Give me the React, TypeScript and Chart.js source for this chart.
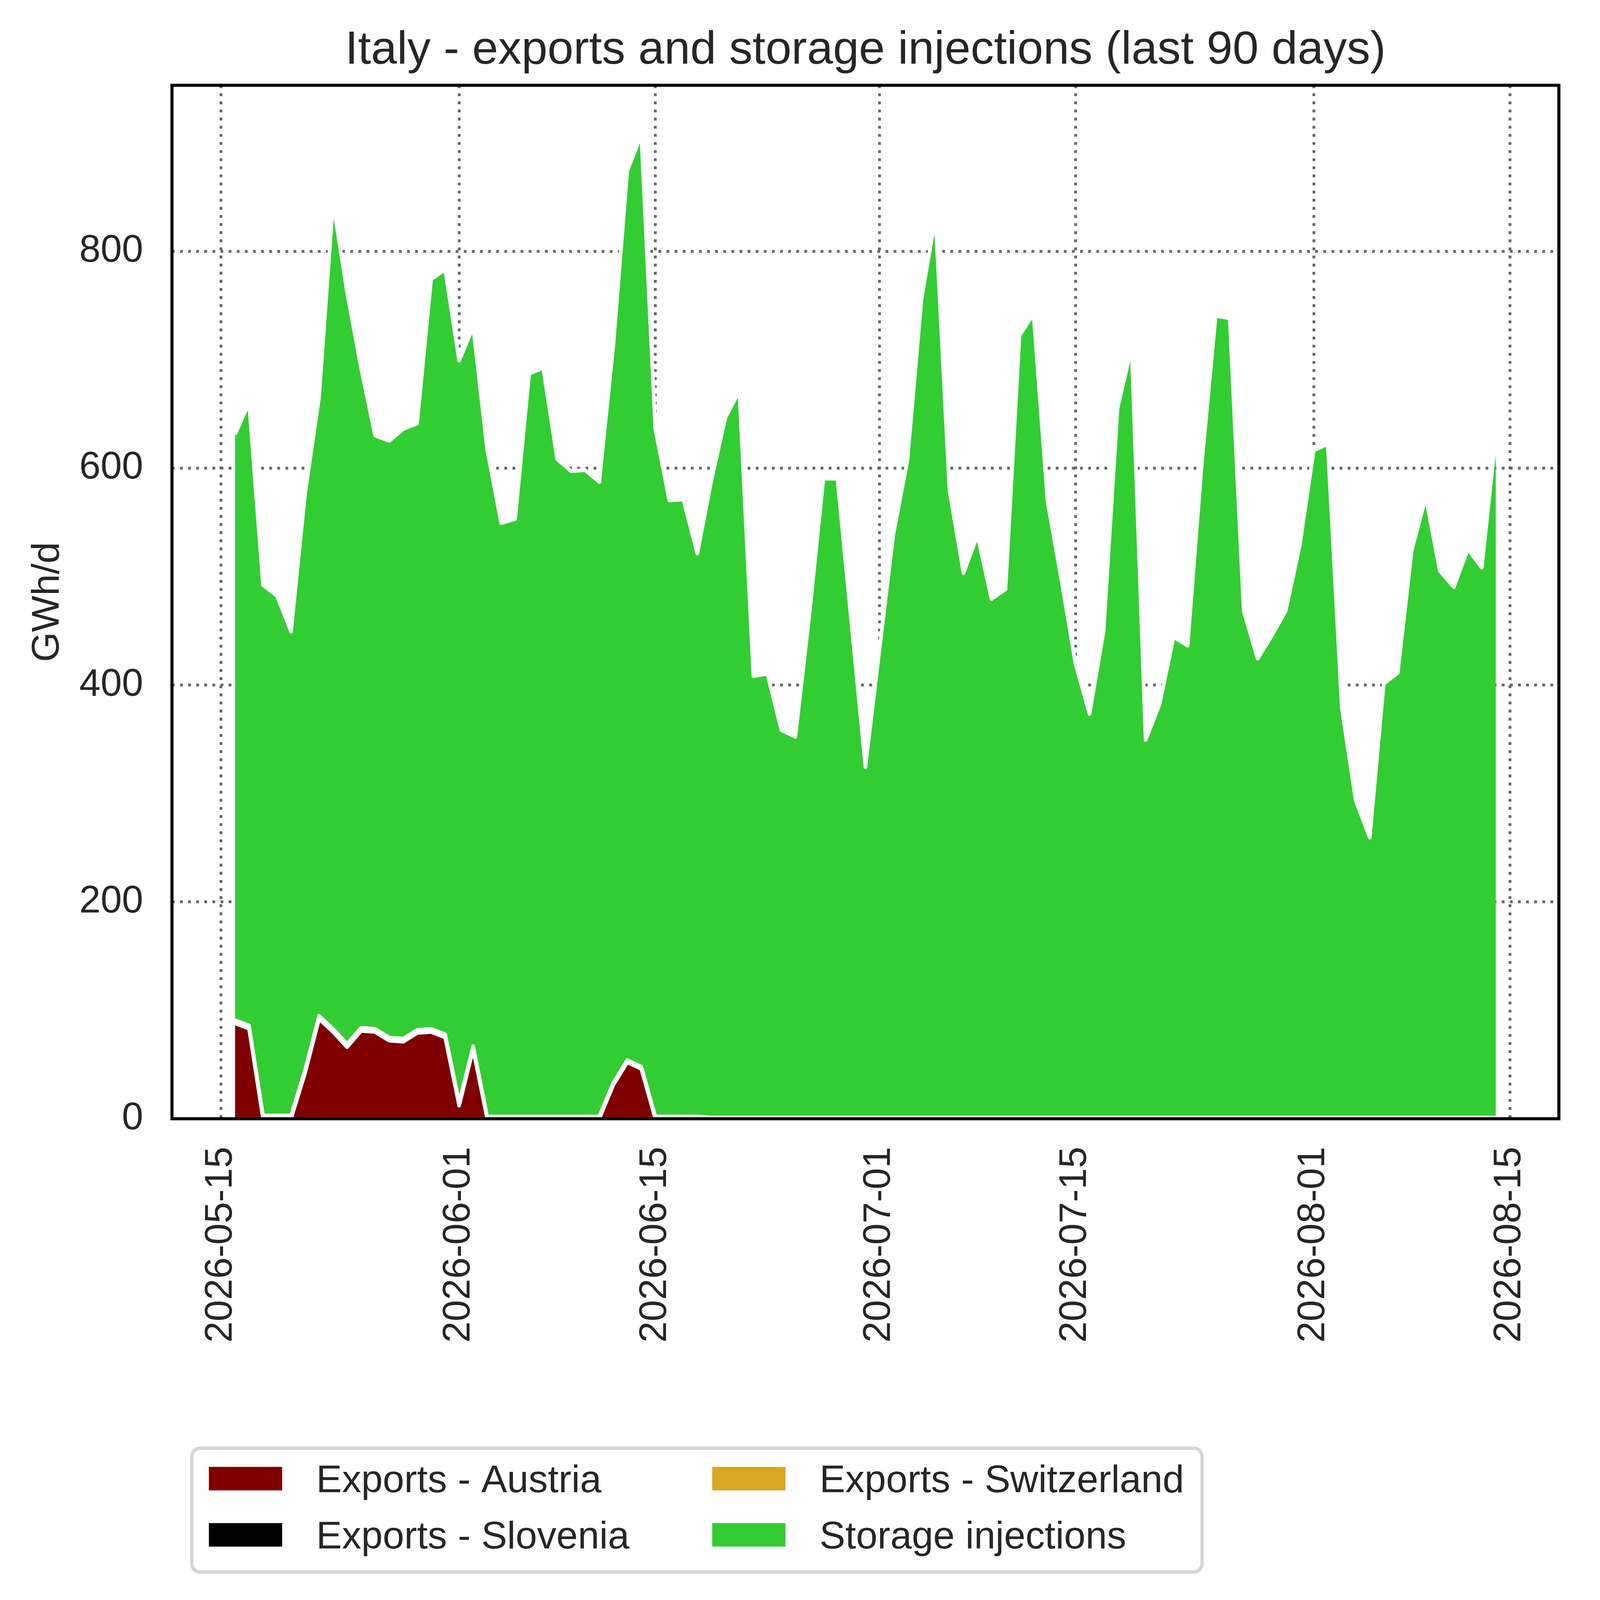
import { useEffect, useRef } from 'react';
import Chart from 'chart.js/auto';

const TITLE = 'Italy - exports and storage injections (last 90 days)';
const Y_LABEL = 'GWh/d';
const FIRST_DAY = '2026-05-16';
const TICK_DATES = ['2026-05-15', '2026-06-01', '2026-06-15', '2026-07-01', '2026-07-15', '2026-08-01', '2026-08-15'];
const Y_MAX = 953;
const Y_STEP = 200;

const AUSTRIA = [
  88, 83, 0, 0, 0, 42, 92, 80, 66, 81,
  80, 72, 71, 79, 80, 75, 12, 64, 0, 0,
  0, 0, 0, 0, 0, 0, 0, 31, 52, 46,
  0, 0, 0, 0, 0, 0, 0, 0, 0, 0,
  0, 0, 0, 0, 0, 0, 0, 0, 0, 0,
  0, 0, 0, 0, 0, 0, 0, 0, 0, 0,
  0, 0, 0, 0, 0, 0, 0, 0, 0, 0,
  0, 0, 0, 0, 0, 0, 0, 0, 0, 0,
  0, 0, 0, 0, 0, 0, 0, 0, 0, 0,
  0
];

const SLOVENIA = [
  2, 2, 2, 2, 2, 2, 2, 2, 2, 2,
  2, 2, 2, 2, 2, 2, 2, 2, 1.5, 1.5,
  1.5, 1.5, 1.5, 1.5, 1.5, 1.5, 1.5, 1.5, 1.5, 1.5,
  1.5, 1.5, 1.5, 1.5, 0.8, 0.8, 0.8, 0.8, 0.8, 0.8,
  0.8, 0.8, 0.8, 0.8, 0.8, 0.8, 0.8, 0.8, 0.8, 0.8,
  0.8, 0.8, 0.8, 0.8, 0.8, 0.8, 0.8, 0.8, 0.8, 0.8,
  0.8, 0.8, 0.8, 0.8, 0.8, 0.8, 0.8, 0.8, 0.8, 0.8,
  0.8, 0.8, 0.8, 0.8, 0.8, 0.8, 0.8, 0.8, 0.8, 0.8,
  0.8, 0.8, 0.8, 0.8, 0.8, 0.8, 0.8, 0.8, 0.8, 0.8,
  0.8
];

const SWITZERLAND = [
  1, 1, 1, 1, 1, 1, 1, 1, 1, 1,
  1, 1, 1, 1, 1, 1, 1, 1, 0.6, 0.6,
  0.6, 0.6, 0.6, 0.6, 0.6, 0.6, 0.6, 0.6, 0.6, 0.6,
  0.6, 0.6, 0.6, 0.6, 0.4, 0.4, 0.4, 0.4, 0.4, 0.4,
  0.4, 0.4, 0.4, 0.4, 0.4, 0.4, 0.4, 0.4, 0.4, 0.4,
  0.4, 0.4, 0.4, 0.4, 0.4, 0.4, 0.4, 0.4, 0.4, 0.4,
  0.4, 0.4, 0.4, 0.4, 0.4, 0.4, 0.4, 0.4, 0.4, 0.4,
  0.4, 0.4, 0.4, 0.4, 0.4, 0.4, 0.4, 0.4, 0.4, 0.4,
  0.4, 0.4, 0.4, 0.4, 0.4, 0.4, 0.4, 0.4, 0.4, 0.4,
  0.4
];

const STORAGE = [
  540, 574, 489, 479, 446, 531, 570, 762, 693, 608,
  547, 550, 562, 559, 691, 705, 684, 663, 615, 547,
  551, 685, 690, 606, 595, 596, 585, 679, 820, 859,
  634, 568, 569, 519, 587, 645, 670, 407, 409, 357,
  351, 463, 589, 589, 456, 323, 431, 538, 606, 754,
  830, 578, 502, 537, 478, 487, 721, 741, 568, 495,
  418, 372, 448, 654, 710, 348, 381, 443, 435, 601,
  739, 737, 467, 423, 444, 467, 527, 615, 621, 378,
  292, 258, 400, 410, 523, 572, 504, 489, 524, 507,
  628
];

const SERIES = [
  { label: 'Exports - Austria', data: AUSTRIA, color: '#800000' },
  { label: 'Exports - Slovenia', data: SLOVENIA, color: '#000000' },
  { label: 'Exports - Switzerland', data: SWITZERLAND, color: '#daa520' },
  { label: 'Storage injections', data: STORAGE, color: '#32cd32' }
];

const FONT = "'Liberation Sans', Arial, sans-serif";
const INK = '#262626';
const BASE_W = 5675;
const BASE_H = 5722;

const toDay = (s: string) => Date.parse(s + 'T00:00:00Z') / 86400000;

function makeDecor(S: number) {
  return {
    id: 'decor',
    afterDatasetsDraw(chart: any) {
      const { ctx, chartArea: a } = chart;
      ctx.save();
      ctx.strokeStyle = '#000';
      ctx.lineWidth = 11 * S;
      ctx.strokeRect(a.left, a.top, a.right - a.left, a.bottom - a.top);
      ctx.restore();
    },
    afterDraw(chart: any) {
      const { ctx, chartArea: a } = chart;
      ctx.save();
      ctx.fillStyle = INK;
      ctx.textBaseline = 'alphabetic';

      // title
      ctx.font = `${167 * S}px ${FONT}`;
      ctx.textAlign = 'center';
      ctx.fillText(TITLE, (a.left + a.right) / 2, a.top - 77 * S);

      // y label
      ctx.save();
      ctx.translate(209 * S, (a.top + a.bottom) / 2);
      ctx.rotate(-Math.PI / 2);
      ctx.font = `${138 * S}px ${FONT}`;
      ctx.fillText(Y_LABEL, 0, 0);
      ctx.restore();

      // legend, two columns
      const bx = a.left + 71 * S;
      const by = a.bottom + 1178 * S;
      const bw = 3613 * S;
      const bh = 443 * S;
      const r = 30 * S;
      ctx.beginPath();
      ctx.moveTo(bx + r, by);
      ctx.arcTo(bx + bw, by, bx + bw, by + bh, r);
      ctx.arcTo(bx + bw, by + bh, bx, by + bh, r);
      ctx.arcTo(bx, by + bh, bx, by, r);
      ctx.arcTo(bx, by, bx + bw, by, r);
      ctx.closePath();
      ctx.fillStyle = '#fff';
      ctx.fill();
      ctx.strokeStyle = '#d6d6d6';
      ctx.lineWidth = 12 * S;
      ctx.stroke();

      ctx.font = `${138 * S}px ${FONT}`;
      ctx.textAlign = 'left';
      SERIES.forEach((s, i) => {
        const col = Math.floor(i / 2);
        const row = i % 2;
        const hx = bx + (61 + col * 1800) * S;
        const hy = by + (67 + row * 201) * S;
        ctx.fillStyle = s.color;
        ctx.fillRect(hx, hy, 262 * S, 84 * S);
        ctx.fillStyle = INK;
        ctx.fillText(s.label, hx + 384 * S, hy + 91 * S);
      });
      ctx.restore();
    }
  };
}

export default function App() {
  const wrapRef = useRef<HTMLDivElement | null>(null);
  const canvasRef = useRef<HTMLCanvasElement | null>(null);

  useEffect(() => {
    document.body.style.margin = '0';
    if (!canvasRef.current || !wrapRef.current) return;

    const S = Math.min(window.innerWidth / BASE_W, window.innerHeight / BASE_H) || 1;
    wrapRef.current.style.width = `${BASE_W * S}px`;
    wrapRef.current.style.height = `${BASE_H * S}px`;

    const x0 = toDay(FIRST_DAY);
    const span = STORAGE.length - 1;
    const tickDays = TICK_DATES.map(toDay);

    const chart = new Chart(canvasRef.current, {
      type: 'line',
      data: {
        datasets: SERIES.map((s, k) => ({
          label: s.label,
          data: s.data.map((v, i) => ({ x: x0 + i, y: v })),
          backgroundColor: s.color,
          borderColor: '#ffffff',
          borderWidth: 13 * S,
          borderJoinStyle: 'round',
          pointRadius: 0,
          tension: 0,
          fill: k === 0 ? 'origin' : '-1'
        }))
      },
      options: {
        animation: false,
        responsive: true,
        maintainAspectRatio: false,
        devicePixelRatio: 1,
        layout: {
          padding: { top: 305 * S, right: 100 * S, bottom: 621 * S, left: 0 }
        },
        plugins: {
          legend: { display: false },
          title: { display: false },
          tooltip: { enabled: false }
        },
        scales: {
          x: {
            type: 'linear',
            min: x0 - 0.05 * span,
            max: x0 + span + 0.05 * span,
            afterBuildTicks: (scale: any) => {
              scale.ticks = tickDays.map((v) => ({ value: v }));
            },
            afterFit: (scale: any) => {
              scale.height = 1100 * S;
            },
            grid: {
              color: '#686868',
              lineWidth: 10 * S,
              drawTicks: false
            },
            border: { display: false, dash: [10 * S, 19 * S] },
            ticks: {
              autoSkip: false,
              maxRotation: 90,
              minRotation: 90,
              padding: 100 * S,
              color: INK,
              font: { family: FONT, size: 137 * S },
              callback: (_v: any, i: number) => TICK_DATES[i]
            }
          },
          y: {
            stacked: true,
            min: 0,
            max: Y_MAX,
            afterFit: (scale: any) => {
              scale.width = 615 * S;
            },
            grid: {
              color: '#686868',
              lineWidth: 10 * S,
              drawTicks: false
            },
            border: { display: false, dash: [10 * S, 19 * S] },
            ticks: {
              stepSize: Y_STEP,
              includeBounds: false,
              padding: 103 * S,
              color: INK,
              font: { family: FONT, size: 137 * S }
            }
          }
        }
      },
      plugins: [makeDecor(S)]
    });

    return () => chart.destroy();
  }, []);

  return (
    <div ref={wrapRef} style={{ width: `${BASE_W}px`, height: `${BASE_H}px`, position: 'relative', background: '#fff' }}>
      <canvas ref={canvasRef}></canvas>
    </div>
  );
}
